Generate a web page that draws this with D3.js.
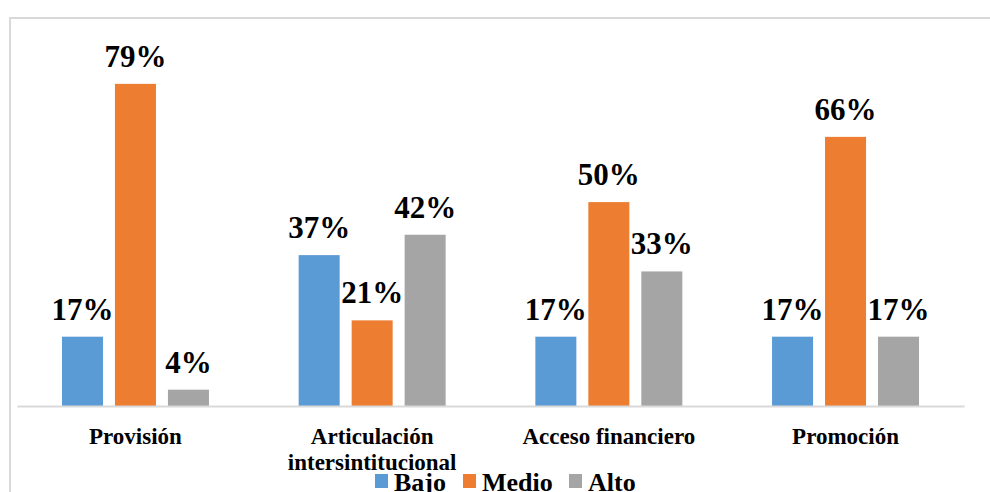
<!DOCTYPE html>
<html>
<head>
<meta charset="utf-8">
<script src="https://cdn.jsdelivr.net/npm/d3@7"></script>
<style>
  body { margin: 0; background: #fff; }
  svg { display: block; }
</style>
</head>
<body>
<svg width="990" height="492"></svg>
<script>
// data
var categories = ['Provisión', 'Articulación intersintitucional', 'Acceso financiero', 'Promoción'];
var series = ['Bajo', 'Medio', 'Alto'];
var bajo  = [0.17, 0.37, 0.17, 0.17];
var medio = [0.79, 0.21, 0.50, 0.66];
var alto  = [0.04, 0.42, 0.33, 0.17];
var colors = ['#5B9BD5', '#ED7D31', '#A5A5A5'];

var values = [bajo, medio, alto];
var table = categories.map(function(c, i) {
    return { cat: c, vals: series.map(function(s, j) { return { s: s, v: values[j][i] }; }) };
});

var FONT = '"Liberation Serif", "Times New Roman", serif';

var svg = d3.select('svg')
    .attr('font-family', FONT)
    .attr('font-weight', 'bold');

// outer chart border
svg.append('rect')
    .attr('x', 10).attr('y', 18)
    .attr('width', 1000).attr('height', 500)
    .attr('fill', 'none')
    .attr('stroke', '#d9d9d9')
    .attr('stroke-width', 2);

var x0 = d3.scaleBand().domain(categories).range([17, 964]).paddingInner(0.379).paddingOuter(0.19);
var x1 = d3.scaleBand().domain(series).range([0, x0.bandwidth()]).paddingInner(0.226);
var y = d3.scaleLinear().domain([0, 0.9]).range([406, 39]);
var color = d3.scaleOrdinal().domain(series).range(colors);

var groups = svg.selectAll('g.grp')
    .data(table)
    .enter()
    .append('g')
    .attr('class', 'grp')
    .attr('transform', function(d) { return 'translate(' + x0(d.cat) + ',0)'; });

groups.selectAll('rect')
    .data(function(d) { return d.vals; })
    .enter()
    .append('rect')
    .attr('x', function(d) { return x1(d.s); })
    .attr('y', function(d) { return y(d.v); })
    .attr('width', x1.bandwidth())
    .attr('height', function(d) { return y(0) - y(d.v); })
    .attr('fill', function(d) { return color(d.s); });

groups.selectAll('text.lbl')
    .data(function(d) { return d.vals; })
    .enter()
    .append('text')
    .attr('class', 'lbl')
    .attr('x', function(d) { return x1(d.s) + x1.bandwidth() / 2; })
    .attr('y', function(d) { return y(d.v) - 17; })
    .attr('text-anchor', 'middle')
    .attr('font-size', 31)
    .text(function(d) { return Math.round(d.v * 100) + '%'; });

// baseline axis
var axis = svg.append('g')
    .attr('transform', 'translate(0,' + y(0) + ')')
    .call(d3.axisBottom(x0).tickSize(0).tickPadding(0).tickFormat(''));
axis.select('.domain').attr('stroke', '#d9d9d9').attr('stroke-width', 2);

// category labels, wrapped like the original
svg.selectAll('text.cat')
    .data(categories)
    .enter()
    .append('text')
    .attr('class', 'cat')
    .attr('text-anchor', 'middle')
    .attr('font-family', FONT)
    .attr('font-weight', 'bold')
    .attr('font-size', 23)
    .attr('x', function(d) { return x0(d) + x0.bandwidth() / 2; })
    .attr('y', 444)
    .each(function(d) {
        var words = d === 'Articulación intersintitucional' ? ['Articulación', 'intersintitucional'] : [d];
        var t = d3.select(this);
        words.forEach(function(w, i) {
            t.append('tspan')
                .attr('x', x0(d) + x0.bandwidth() / 2)
                .attr('dy', i === 0 ? 0 : 26)
                .text(w);
        });
    });

// legend
var legendX = [375, 463, 569];
var legend = svg.selectAll('g.leg')
    .data(series)
    .enter()
    .append('g')
    .attr('class', 'leg')
    .attr('transform', function(d, i) { return 'translate(' + legendX[i] + ',474)'; });

legend.append('rect')
    .attr('width', 13).attr('height', 14)
    .attr('fill', function(d) { return color(d); });

legend.append('text')
    .attr('x', 19)
    .attr('y', 17)
    .attr('font-size', 26)
    .text(function(d) { return d; });
</script>
</body>
</html>
